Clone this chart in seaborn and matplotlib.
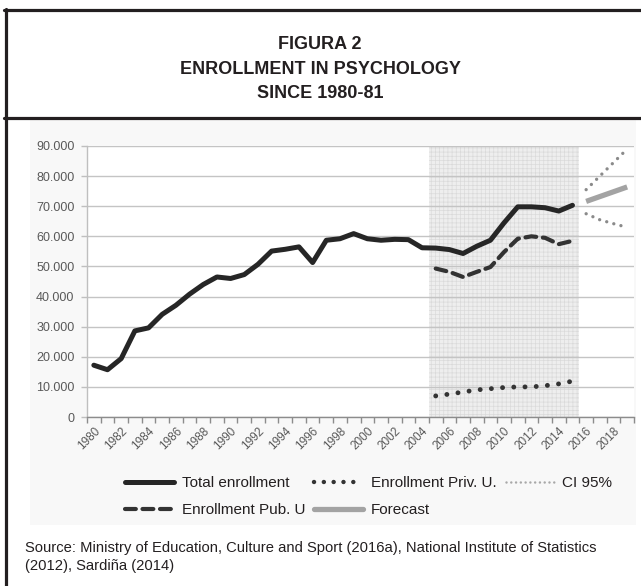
import numpy as np
import matplotlib
matplotlib.use("Agg")
import matplotlib.pyplot as plt
import seaborn as sns
from matplotlib.lines import Line2D
from matplotlib.patches import Rectangle

# ── DATA ────────────────────────────────────────────────────
years_total = list(range(1980, 2016))
total = [17200, 15700, 19400, 28600, 29600, 34100, 37100, 40800, 44000, 46500,
         46000, 47300, 50700, 55100, 55700, 56500, 51300, 58700, 59200, 60900,
         59200, 58700, 59000, 58900, 56200, 56100, 55600, 54300, 56700, 58700,
         64500, 69800, 69800, 69500, 68400, 70300]

years_univ = list(range(2005, 2016))
pub_u = [49300, 48200, 46500, 48200, 49800, 54800, 59200, 60000, 59500, 57400, 58500]
priv_u = [7000, 7600, 8300, 9000, 9400, 9800, 10000, 10000, 10400, 11000, 11900]

years_fc = [2016, 2017, 2018, 2019]
forecast = [71600, 73200, 74800, 76400]
ci_upper = [75500, 80000, 84500, 89000]
ci_lower = [67500, 65500, 64200, 63000]

label_years = list(range(1980, 2020, 2))
y_ticks = list(range(0, 90001, 10000))

# ── STYLE ───────────────────────────────────────────────────
sns.set_style("white")
plt.rcParams["font.family"] = ["Liberation Sans", "DejaVu Sans"]
plt.rcParams["hatch.linewidth"] = 0.5

W, H = 641, 586
fig = plt.figure(figsize=(W / 100, H / 100), dpi=100)
fig.patch.set_facecolor("white")

def fx(px):
    return px / W

def fy(py):
    return 1 - py / H

# chart background + frame lines
fig.add_artist(Rectangle((fx(30), fy(525)), fx(636) - fx(30), fy(120) - fy(525),
                         transform=fig.transFigure, facecolor="#f8f8f8",
                         edgecolor="none", zorder=0))
frame_kw = dict(transform=fig.transFigure, color="#231f20", lw=2.3, zorder=5)
fig.add_artist(Line2D([fx(5.5), fx(5.5)], [fy(9), fy(586)], **frame_kw))
fig.add_artist(Line2D([fx(4), fx(641)], [fy(10), fy(10)], **frame_kw))
fig.add_artist(Line2D([fx(4), fx(641)], [fy(117.5), fy(117.5)], **frame_kw))

# title
fig.text(fx(320), fy(69), "FIGURA 2\nENROLLMENT IN PSYCHOLOGY\nSINCE 1980-81",
         ha="center", va="center", fontsize=13, fontweight="bold",
         color="#231f20", linespacing=1.55)

# ── AXES ────────────────────────────────────────────────────
ax = fig.add_axes([fx(87), fy(417), fx(634) - fx(87), fy(146) - fy(417)])
ax.set_facecolor("white")

ax.axvspan(2004.5, 2015.5, facecolor="#eeeeee", edgecolor="#dadada",
           hatch="++++", lw=0, zorder=0)

for v in y_ticks:
    ax.axhline(v, color="#c4c4c4", lw=1.0, zorder=1)

sns.lineplot(x=years_total, y=total, ax=ax, color="#262626", lw=3.6,
             solid_capstyle="round", solid_joinstyle="round", zorder=4)
sns.lineplot(x=years_univ, y=pub_u, ax=ax, color="#333333", lw=3.0,
             linestyle=(0, (2.6, 1.6)), dash_capstyle="round", zorder=4)
sns.lineplot(x=years_univ, y=priv_u, ax=ax, color="#333333", lw=3.5,
             linestyle=(0, (0.01, 2.3)), dash_capstyle="round", zorder=4)
sns.lineplot(x=years_fc, y=ci_upper, ax=ax, color="#8a8a8a", lw=2.4,
             linestyle=(0, (0.01, 2.2)), dash_capstyle="round", zorder=3)
sns.lineplot(x=years_fc, y=ci_lower, ax=ax, color="#8a8a8a", lw=2.4,
             linestyle=(0, (0.01, 2.2)), dash_capstyle="round", zorder=3)
sns.lineplot(x=years_fc, y=forecast, ax=ax, color="#a3a3a3", lw=3.8,
             solid_capstyle="butt", zorder=3)

ax.set_xlim(1979.5, 2019.5)
ax.set_ylim(0, 90000)
ax.set_xticks(np.arange(1979.5, 2020.5, 1))
ax.set_xticklabels([])
ax.set_xticks(label_years, minor=True)
ax.set_xticklabels([str(y) for y in label_years], minor=True, rotation=45,
                   ha="right", rotation_mode="anchor", fontsize=8.5, color="#595959")
ax.tick_params(axis="x", which="major", length=4, width=1, color="#8c8c8c",
               direction="out", bottom=True)
ax.tick_params(axis="x", which="minor", length=0, pad=6, bottom=True)
ax.set_yticks(y_ticks)
ax.set_yticklabels([f"{v:,.0f}".replace(",", ".") for v in y_ticks],
                   fontsize=9, color="#595959")
ax.tick_params(axis="y", length=4, width=1, color="#bfbfbf", direction="out",
               left=True, pad=5)
for side in ["top", "right"]:
    ax.spines[side].set_visible(False)
ax.spines["left"].set_color("#bfbfbf")
ax.spines["bottom"].set_color("#8c8c8c")
ax.spines["left"].set_linewidth(1.0)
ax.spines["bottom"].set_linewidth(1.0)
ax.set_xlabel("")
ax.set_ylabel("")
ax.grid(False)

# ── LEGEND ──────────────────────────────────────────────────
h_total = Line2D([], [], color="#262626", lw=3.6, solid_capstyle="round")
h_pub = Line2D([], [], color="#333333", lw=3.0, linestyle=(0, (2.6, 1.6)),
               dash_capstyle="round")
h_priv = Line2D([], [], color="#333333", lw=3.2, linestyle=(0, (0.01, 2.2)),
                dash_capstyle="round")
h_fc = Line2D([], [], color="#a3a3a3", lw=3.8)
h_ci = Line2D([], [], color="#a8a8a8", lw=1.8, linestyle=(0, (0.01, 1.9)),
              dash_capstyle="round")
leg = fig.legend([h_total, h_pub, h_priv, h_fc, h_ci],
                 ["Total enrollment", "Enrollment Pub. U", "Enrollment Priv. U.",
                  "Forecast", "CI 95%"],
                 ncol=3, loc="center left", bbox_to_anchor=(fx(125), fy(496.5)),
                 frameon=False, borderpad=0, borderaxespad=0,
                 handlelength=3.2, handletextpad=0.5, columnspacing=0.6,
                 labelspacing=0.85, prop={"size": 11})
for t in leg.get_texts():
    t.set_color("#231f20")

# source
fig.text(fx(25), fy(557),
         "Source: Ministry of Education, Culture and Sport (2016a), National Institute of Statistics\n(2012), Sardiña (2014)",
         ha="left", va="center", fontsize=10.6, color="#231f20", linespacing=1.45)

fig.savefig("out.png", dpi=100)
